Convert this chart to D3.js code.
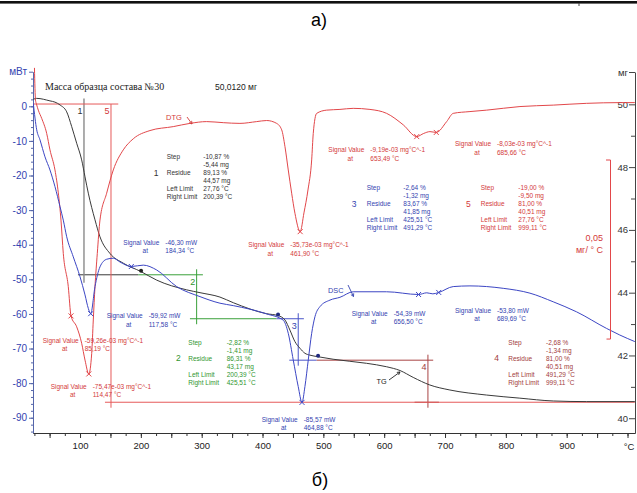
<!DOCTYPE html>
<html>
<head>
<meta charset="utf-8">
<script src="https://cdn.jsdelivr.net/npm/d3@7"></script>
<style>
  body { margin: 0; background: #fff; }
  svg { display: block; }
  text { font-family: "Liberation Sans", Arial, sans-serif; }
</style>
</head>
<body>
<svg width="637" height="493"></svg>
<script>
// ---- data ----
// DSC, mW
const dscTemp  = [23.2, 28.8, 34.2, 42.4, 50.6, 58.8, 67.1, 72.5, 78.1, 88.9, 99.9, 108.2, 113.6, 117.58, 124.6, 132.8, 143.8, 154.7, 165.7, 184.34, 204, 226, 258.9, 297.2, 330, 352, 406.8, 434, 442.3, 450.5, 458.7, 464.88, 469.7, 475.2, 480.8, 486.2, 494.4, 510.9, 527.3, 549.1, 604, 656.5, 670, 680, 689.69, 713.5, 741, 795.7, 839.6, 877.9, 916.3, 965.6, 987.3, 1012];
const dscPower = [0.9, -6.8, -9.7, -14.6, -18.4, -23.2, -29.0, -32.9, -37.7, -43.5, -49.2, -54.5, -58.4, -59.92, -52.1, -46.4, -44.2, -43.9, -45.0, -46.30, -45.9, -47.3, -52.1, -55.0, -56.9, -57.6, -60.0, -61.8, -65.6, -73.3, -81.0, -85.57, -81.0, -73.3, -65.6, -60.8, -57.9, -56.0, -55.2, -53.6, -53.6, -54.39, -53.9, -54.2, -53.80, -52.1, -51.9, -52.6, -54.0, -56.5, -59.4, -64.2, -66.1, -68.0];

// TG, mg
const tgTemp = [23.2, 28.8, 50.6, 58.8, 67.1, 78.1, 86.3, 94.5, 102.7, 108.2, 113.6, 124.6, 132.8, 149.2, 171.1, 200.39, 226, 275.3, 297.2, 330, 352, 406.8, 425.51, 436.9, 445, 453.3, 461.5, 469.7, 478, 491.29, 516, 571, 604, 626, 647.8, 675, 708, 768, 823, 878, 933, 1012];
const tgMass = [50.16, 50.19, 50.11, 50.07, 49.98, 49.76, 49.29, 48.76, 48.23, 47.69, 47.17, 46.32, 45.78, 45.25, 44.94, 44.67, 44.40, 44.09, 44.00, 43.86, 43.68, 43.33, 43.27, 43.13, 42.81, 42.44, 42.23, 42.07, 42.01, 41.96, 41.88, 41.75, 41.64, 41.52, 41.30, 41.06, 40.90, 40.74, 40.64, 40.55, 40.53, 40.53];

// DTG, 1e-3 mg/°C
const dtgTemp = [25.1, 26.8, 28.4, 31.4, 37, 45.2, 50.6, 58.8, 64.3, 68.7, 72.5, 80.7, 85.19, 94.5, 102.7, 108.2, 114.47, 119.2, 121.8, 124.6, 128.4, 132.8, 143.8, 154.7, 171.1, 187.5, 215, 253.3, 280.7, 308.2, 335.5, 362.9, 390.4, 406.8, 423.2, 431.5, 436.9, 442.3, 447.9, 453.3, 461.9, 468.1, 474.7, 480.8, 483.4, 489, 505.4, 527.3, 549.1, 576.6, 604, 631.3, 653.49, 665, 675.2, 685.66, 702.7, 713.5, 741, 768.4, 823.2, 877.9, 932.8, 987.5, 1012];
const dtgRate = [10, 1.0, -0.1, -1.8, -4.1, -8.3, -12.9, -18.5, -24.9, -32.5, -41.8, -51.1, -59.26, -62.3, -66.9, -71.6, -75.47, -69.7, -60.4, -51.1, -41.8, -32.5, -25.0, -18.5, -12.9, -9.8, -7.5, -6.4, -5.5, -5.0, -5.3, -5.5, -5.0, -4.7, -5.5, -7.3, -12.0, -18.5, -25.0, -30.6, -35.73, -30.5, -24.1, -15.7, -8.3, -2.7, -1.8, -1.6, -1.3, -1.6, -2.7, -5.9, -9.19, -8.3, -7.8, -8.03, -5.0, -2.7, -2.2, -1.8, -0.8, -0.4, 0.1, 0.3, 0.3];

// marked signal values
const dscMarkT = [117.58, 184.34, 464.88, 656.50, 689.69];
const dscMarkV = [-59.92, -46.30, -85.57, -54.39, -53.80];
const dtgMarkT = [85.19, 114.47, 461.90, 653.49, 685.66];
const dtgMarkV = [-59.26, -75.47, -35.73, -9.19, -8.03];

// TG steps
const stepNo      = [1, 2, 3, 4, 5];
const stepLeft    = [27.76, 200.39, 425.51, 491.29, 27.76];
const stepRight   = [200.39, 425.51, 491.29, 999.11, 999.11];
const stepPct     = [-10.87, -2.82, -2.64, -2.68, -19.00];
const stepMg      = [-5.44, -1.41, -1.32, -1.34, -9.50];
const residuePct  = [89.13, 86.31, 83.67, 81.00, 81.00];
const residueMg   = [44.57, 43.17, 41.85, 40.51, 40.51];
const startMg     = [50.01, 44.57, 43.17, 41.85, 50.01];
const stepMarkT   = [106.5, 291.7, 458.7, 671.9, 150.9];
const stepTopSpan = [null, [195.8, 302], [423, 468], [489, 680.6], [20.5, 162.9]];
const stepBotSpan = [[96.6, 195.8], [280.7, 423], [444, 489], [650, 690], [141, 1012]];

const xTicks = [100, 200, 300, 400, 500, 600, 700, 800, 900];
const dscTicks = [0, -10, -20, -30, -40, -50, -60, -70, -80, -90];
const tgTicks = [50, 48, 46, 44, 42, 40];

// ---- layout ----
const svg = d3.select('svg');
const x = d3.scaleLinear().domain([22.7, 1012.3]).range([33, 635]);
const yDsc = d3.scaleLinear().domain([10, -94.5]).range([71.7, 433.3]);
const yTg = d3.scaleLinear().domain([51.03, 39.53]).range([72, 433]);
const yDtg = d3.scaleLinear().domain([8.85, -91.96]).range([72, 433]);

const BLUE = '#3c46c4', BLUE_T = '#3443b0';
const RED = '#e2474a', RED_T = '#d33a3a';
const BLACK = '#3a3a3a';
const stepColor = ['#3a3a3a', '#3aa03a', '#4a55c8', '#a84444', '#e65a5a'];
const stepText = ['#333', '#2f962f', '#3443b0', '#a23c3c', '#d33a3a'];

const fmt = (v, d = 2) => d3.format(`.${d}f`)(v).replace('.', ',').replace('\u2212', '-');

// top rule and captions
svg.append('rect').attr('x', 0).attr('y', 1).attr('width', 637).attr('height', 2.6).attr('fill', '#111');
svg.append('line').attr('x1', 579).attr('x2', 579).attr('y1', 3).attr('y2', 6).attr('stroke', '#444');
svg.append('text').attr('x', 319).attr('y', 26).attr('text-anchor', 'middle')
  .attr('font-size', 18).style('font-family', '"Liberation Sans Narrow", "Liberation Sans", sans-serif').text('а)');
svg.append('text').attr('x', 320).attr('y', 486).attr('text-anchor', 'middle')
  .attr('font-size', 18).style('font-family', '"Liberation Sans Narrow", "Liberation Sans", sans-serif').text('б)');

svg.append('defs').append('clipPath').attr('id', 'plot')
  .append('rect').attr('x', 33).attr('y', 60).attr('width', 602).attr('height', 373);

// ---- axes ----
// left (DSC)
const gl = svg.append('g').attr('transform', 'translate(33,0)');
gl.call(d3.axisLeft(yDsc).tickValues(d3.range(-94, 10, 2)).tickSize(2).tickSizeOuter(0).tickFormat(''));
gl.selectAll('.tick line').attr('stroke', '#5566aa');
gl.select('.domain').remove();
const glm = svg.append('g').attr('transform', 'translate(33,0)');
glm.call(d3.axisLeft(yDsc).tickValues(dscTicks.concat([10])).tickSize(4).tickSizeOuter(0).tickPadding(2)
  .tickFormat(d => d === 10 ? 'мВт' : (d === 0 ? '0' : fmt(d, 0))));
glm.selectAll('text').attr('fill', BLUE_T).attr('font-size', 10);
glm.selectAll('line').attr('stroke', '#5566aa');
glm.select('.domain').attr('stroke', '#5566aa');

// right (TG)
const gr = svg.append('g').attr('transform', 'translate(635,0)');
gr.call(d3.axisLeft(yTg).tickValues([49, 47, 45, 43, 41]).tickSize(4).tickSizeOuter(0).tickFormat(''));
gr.select('.domain').remove();
gr.selectAll('line').attr('stroke', '#444');
const grm = svg.append('g').attr('transform', 'translate(635,0)');
grm.call(d3.axisLeft(yTg).tickValues(tgTicks.concat([51.03])).tickSize(6).tickSizeOuter(0).tickPadding(1)
  .tickFormat(d => d > 51 ? 'мг' : String(d)));
grm.selectAll('text').attr('fill', '#333').attr('font-size', 9.5);
grm.selectAll('line').attr('stroke', '#444');
grm.select('.domain').attr('stroke', '#444');

// bottom (temperature)
const gb = svg.append('g').attr('transform', 'translate(0,433)');
gb.call(d3.axisBottom(x).tickValues(d3.range(25, 1001, 25)).tickSize(3).tickSizeOuter(0).tickFormat(''));
gb.select('.domain').remove();
gb.selectAll('line').attr('stroke', '#333');
const gbm = svg.append('g').attr('transform', 'translate(0,433)');
gbm.call(d3.axisBottom(x).tickValues(d3.range(50, 1001, 50)).tickSize(5).tickSizeOuter(0).tickPadding(4)
  .tickFormat(d => xTicks.includes(d) ? String(d) : ''));
gbm.selectAll('text').attr('fill', '#222').attr('font-size', 9.5);
gbm.selectAll('line').attr('stroke', '#333');
gbm.select('.domain').attr('stroke', '#333');
svg.append('text').attr('x', 629).attr('y', 450).attr('text-anchor', 'middle')
  .attr('font-size', 9.5).attr('fill', '#222').text('°C');

// ---- TG step markers ----
const gs = svg.append('g').attr('clip-path', 'url(#plot)');
stepNo.forEach((n, i) => {
  const c = stepColor[i];
  const yt = yTg(startMg[i]), yb = yTg(residueMg[i]);
  const vx = x(stepMarkT[i]);
  if (stepTopSpan[i]) {
    gs.append('line').attr('x1', x(stepTopSpan[i][0])).attr('x2', x(stepTopSpan[i][1]))
      .attr('y1', yt).attr('y2', yt).attr('stroke', c).attr('stroke-width', 1);
  }
  gs.append('line').attr('x1', x(stepBotSpan[i][0])).attr('x2', x(stepBotSpan[i][1]))
    .attr('y1', yb).attr('y2', yb).attr('stroke', c).attr('stroke-width', 1);
  gs.append('line').attr('x1', vx).attr('x2', vx)
    .attr('y1', yt - (n === 5 ? 0 : 5.5)).attr('y2', yb + (n === 1 ? 8 : 5.5))
    .attr('stroke', n === 1 ? '#8a8a8a' : c).attr('stroke-width', n === 1 ? 1.4 : 1);
  svg.append('text').attr('x', vx - 4).attr('y', yt + 7).attr('dy', '0.35em')
    .attr('text-anchor', 'middle').attr('font-size', 9).attr('fill', stepText[i]).text(String(n));
});

// ---- curves ----
const gc = svg.append('g').attr('clip-path', 'url(#plot)');
const lineOf = (ts, vs, ys) => d3.line().curve(d3.curveMonotoneX)
  .x((d, i) => x(ts[i])).y((d, i) => ys(vs[i]))(ts);

gc.append('path').attr('d', lineOf(tgTemp, tgMass, yTg)).attr('fill', 'none').attr('stroke', BLACK).attr('stroke-width', 1);
gc.append('path').attr('d', lineOf(dtgTemp, dtgRate, yDtg)).attr('fill', 'none').attr('stroke', RED).attr('stroke-width', 1);
gc.append('path').attr('d', lineOf(dscTemp, dscPower, yDsc)).attr('fill', 'none').attr('stroke', BLUE).attr('stroke-width', 1);

// dots where the TG step limits sit on the curve
const dotT = [200.39, 425.51, 491.29];
const dotC = ['#222', '#202a80', '#202a80'];
dotT.forEach((t, i) => {
  const m = d3.scaleLinear().domain(tgTemp).range(tgMass)(t);
  svg.append('circle').attr('cx', x(t)).attr('cy', yTg(m) - 1).attr('r', 2).attr('fill', dotC[i]);
});

// x markers
function cross(cx, cy, c) {
  svg.append('path').attr('d', `M${cx - 2.5},${cy - 2.5}L${cx + 2.5},${cy + 2.5}M${cx - 2.5},${cy + 2.5}L${cx + 2.5},${cy - 2.5}`)
    .attr('stroke', c).attr('stroke-width', 1);
}
dscMarkT.forEach((t, i) => cross(x(t), yDsc(dscMarkV[i]), BLUE));
dtgMarkT.forEach((t, i) => cross(x(t), yDtg(dtgMarkV[i]), RED));

// ---- annotations ----
const FS = 6.5;
function signal(x0, y0, value, temp, color) {
  const g = svg.append('g').attr('fill', color).attr('font-size', FS);
  g.append('text').attr('x', x0).attr('y', y0).attr('dy', '0.35em').text('Signal Value');
  g.append('text').attr('x', x0 + 42).attr('y', y0).attr('dy', '0.35em').text(value);
  g.append('text').attr('x', x0 + 22).attr('y', y0 + 8.3).attr('dy', '0.35em').attr('text-anchor', 'middle').text('at');
  g.append('text').attr('x', x0 + 42).attr('y', y0 + 8.3).attr('dy', '0.35em').text(fmt(temp) + ' °C');
}
const dscLabelPos = [[106.7, 316], [123.3, 242.7], [261.7, 419.3], [351.7, 313.3], [455, 310.7]];
const dtgLabelPos = [[42.7, 340.7], [50.7, 386.7], [248.3, 245], [328.3, 150], [455, 144]];
dscMarkT.forEach((t, i) => signal(dscLabelPos[i][0], dscLabelPos[i][1], fmt(dscMarkV[i]) + ' mW', t, BLUE_T));
dtgMarkT.forEach((t, i) => signal(dtgLabelPos[i][0], dtgLabelPos[i][1], fmt(dtgMarkV[i]) + 'e-03 mg°C^-1', t, RED_T));

// step result blocks
const stepBlockPos = [[156, 166.7, 203.3, 156.7], [178.3, 188.3, 226.7, 342.3], [354, 366.7, 403.3, 187.7], [496.7, 508.3, 546, 342.3], [468.3, 480.7, 518.3, 187.7]];
stepNo.forEach((n, i) => {
  const [nx, lx, vx, y0] = stepBlockPos[i];
  const g = svg.append('g').attr('fill', stepText[i]).attr('font-size', FS);
  const labels = ['Step', '', 'Residue', '', 'Left Limit', 'Right Limit'];
  const vals = [fmt(stepPct[i]) + ' %', fmt(stepMg[i]) + ' mg', fmt(residuePct[i]) + ' %', fmt(residueMg[i]) + ' mg',
    fmt(stepLeft[i]) + ' °C', fmt(stepRight[i]) + ' °C'];
  labels.forEach((l, r) => {
    const yy = y0 + r * 8.05;
    if (l) g.append('text').attr('x', lx).attr('y', yy).attr('dy', '0.35em').text(l);
    g.append('text').attr('x', vx).attr('y', yy).attr('dy', '0.35em').text(vals[r]);
  });
  g.append('text').attr('x', nx).attr('y', y0 + 2 * 8.05).attr('dy', '0.35em').attr('text-anchor', 'middle')
    .attr('font-size', 8.5).text(String(n));
});

// titles
svg.append('text').attr('x', 45).attr('y', 90).attr('font-size', 10)
  .style('font-family', '"Liberation Serif", "Times New Roman", serif').attr('fill', '#222')
  .text('Масса образца состава №30');
svg.append('text').attr('x', 215).attr('y', 90).attr('font-size', 8.5).attr('fill', '#222').text('50,0120 мг');

// curve names with arrows
function arrow(x1, y1, x2, y2, c) {
  const a = Math.atan2(y2 - y1, x2 - x1), h = 3.2;
  svg.append('path').attr('d', `M${x1},${y1}L${x2},${y2}M${x2 - h * Math.cos(a - 0.5)},${y2 - h * Math.sin(a - 0.5)}L${x2},${y2}L${x2 - h * Math.cos(a + 0.5)},${y2 - h * Math.sin(a + 0.5)}`)
    .attr('stroke', c).attr('fill', 'none').attr('stroke-width', 0.9);
}
svg.append('text').attr('x', 166).attr('y', 117).attr('dy', '0.35em').attr('font-size', 7.5).attr('fill', RED_T).text('DTG');
arrow(187, 117, 192, 124, RED_T);
svg.append('text').attr('x', 328).attr('y', 290).attr('dy', '0.35em').attr('font-size', 7.3).attr('fill', BLUE_T).text('DSC');
arrow(348, 285, 353.5, 296.5, BLUE_T);
svg.append('text').attr('x', 376.5).attr('y', 381).attr('dy', '0.35em').attr('font-size', 7.3).attr('fill', '#222').text('TG');
arrow(389, 380, 400, 372, '#222');

// DTG scale bar: 0,05 mg/°C
const barTop = 160, barLen = yDtg(-50) - yDtg(0);
svg.append('path').attr('d', `M606,${barTop}H610.5V${barTop + barLen}H606.5`)
  .attr('stroke', RED).attr('fill', 'none').attr('stroke-width', 1);
svg.append('text').attr('x', 603).attr('y', 238).attr('dy', '0.35em').attr('text-anchor', 'end')
  .attr('font-size', 9).attr('fill', RED_T).text('0,05');
svg.append('text').attr('x', 603).attr('y', 250).attr('dy', '0.35em').attr('text-anchor', 'end')
  .attr('font-size', 9).attr('fill', RED_T).text('мг/ ° С');
</script>
</body>
</html>
